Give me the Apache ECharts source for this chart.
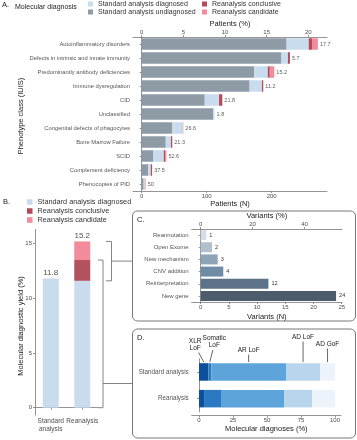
<!DOCTYPE html>
<html><head><meta charset="utf-8">
<script src="https://cdn.jsdelivr.net/npm/echarts@6/dist/echarts.min.js"></script>
<style>html,body{margin:0;padding:0;background:#fff}#c{width:357px;height:440px}</style>
</head><body><div id="c"></div>
<script>
// ---------- Panel A data ----------
const phenoCats = ['Autoinflammatory disorders','Defects in intrinsic and innate immunity','Predominantly antibody deficiencies','Immune dysregulation','CID','Unclassified','Congenital defects of phagocytes','Bone Marrow Failure','SCID','Complement deficiency','Phenocopies of PID'];
const undiagnosed = [223,215,173,166,97,110,47,37,18,10,3];
const diagnosed   = [34,10,21,19,22,2,16,8,16,4,2];
const conclusive  = [5,3,3,2,5,0,0,2,2,2,0];
const candidate   = [9,0,7,0,0,0,1,0,2,0,1];
const yieldPctLabels = ['17.7','5.7','15.2','11.2','21.8','1.8','26.6','21.3','52.6','37.5','50'];
const patientsNTicks = [0,100,200];
const patientsPctTicks = [0,5,10,15,20];

// ---------- Panel B data ----------
const yieldCats = ['Standard\nanalysis','Reanalysis'];
const yieldDiagnosed  = [11.8, 11.6];
const yieldConclusive = [0, 1.9];
const yieldCandidate  = [0, 1.7];
const yieldTotalLabels = ['11.8','15.2'];
const yieldTicks = [0,5,10,15];

// ---------- Panel C data ----------
const variantCats = ['Reannotation','Open Exome','New mechanism','CNV addition','Reinterpretation','New gene'];
const variantCounts = [1,2,3,4,12,24];
const variantNTicks = [0,5,10,15,20,25];
const variantPctTicks = [0,20,40];

// ---------- Panel D data ----------
const dxCats = ['Standard analysis','Reanalysis'];
const xlrLoF     = [6.9, 3.7];
const somaticLoF = [2.1, 12.5];
const arLoF      = [55, 46.3];
const adLoF      = [25, 20.8];
const adGoF      = [11, 16.7];
const dxTicks = [0,25,50,75,100];

// ---------- styles ----------
const FONT = 'Liberation Sans, Arial, sans-serif';
const AX = '#7a7a7a';
const C_UND = '#8e9ba7', C_DIAG = '#c8dced', C_CONC = '#b24a58', C_CAND = '#f28b9b';
const variantColors = ['#d5dde7','#b2bfcd','#8ea3b8','#6e8ca6','#5b7289','#4c5c6d'];
const dxColors = ['#0c4f9b','#2b79c2','#5da4da','#b8d5ee','#edf3fb'];

function axLine(){return {show:true,lineStyle:{color:AX,width:0.8}};}
function tick(vals){const t={show:true,length:2,lineStyle:{color:AX,width:0.8}}; if(vals) t.customValues=vals; return t;}
function lab(vals,size,margin){const l={show:true,fontSize:size,color:'#4d4d4d',fontFamily:FONT,margin:margin}; if(vals) l.customValues=vals; return l;}
function nameStyle(){return {fontSize:7.5,color:'#1a1a1a',fontFamily:FONT};}

const total = phenoCats.map((c,i)=>undiagnosed[i]+diagnosed[i]+conclusive[i]+candidate[i]);
const yieldTotal = yieldCats.map((c,i)=>yieldDiagnosed[i]+yieldConclusive[i]+yieldCandidate[i]);

const chart = echarts.init(document.getElementById('c'), null, {renderer:'canvas'});
const option = {
  animation:false,
  backgroundColor:'#fff',
  textStyle:{fontFamily:FONT},
  grid:[
    {left:133, top:37, width:194, height:154, outerBoundsMode:'none'},
    {left:35, top:229.4, width:63, height:185.6, outerBoundsMode:'none'},
    {left:191.7, top:229, width:150.3, height:73, outerBoundsMode:'none'},
    {left:191.7, top:358.6, width:149.3, height:53.4, outerBoundsMode:'none'}
  ],
  legend:[
    {left:88, top:0, orient:'vertical', icon:'rect', itemWidth:5, itemHeight:5, itemGap:0, padding:0, selectedMode:false,
     data:['Standard analysis diagnosed','Standard analysis undiagnosed'], textStyle:{fontSize:7, lineHeight:8, color:'#333', fontFamily:FONT}},
    {left:202, top:0, orient:'vertical', icon:'rect', itemWidth:5, itemHeight:5, itemGap:0, padding:0, selectedMode:false,
     data:['Reanalysis conclusive','Reanalysis candidate'], textStyle:{fontSize:7, lineHeight:8, color:'#333', fontFamily:FONT}},
    {left:27, top:197.5, orient:'vertical', icon:'rect', itemWidth:5.5, itemHeight:5.5, itemGap:0, padding:0, selectedMode:false,
     data:['Standard analysis diagnosed','Reanalysis conclusive','Reanalysis candidate'], textStyle:{fontSize:7.3, lineHeight:9, color:'#333', fontFamily:FONT}}
  ],
  xAxis:[
    {gridIndex:0, type:'value', position:'bottom', min:-13.4, max:285.1, axisLine:axLine(), axisTick:tick(patientsNTicks), axisLabel:lab(patientsNTicks,6,2), splitLine:{show:false},
     name:'Patients (N)', nameLocation:'middle', nameGap:7, nameTextStyle:nameStyle()},
    {gridIndex:0, type:'value', position:'top', min:-1.044, max:22.24, axisLine:axLine(), axisTick:tick(patientsPctTicks), axisLabel:lab(patientsPctTicks,6,2), splitLine:{show:false},
     name:'Patients (%)', nameLocation:'middle', nameGap:8, nameTextStyle:nameStyle()},
    {gridIndex:1, type:'category', data:yieldCats, axisLine:axLine(), axisTick:{show:true,alignWithLabel:true,length:2,lineStyle:{color:AX,width:0.8}},
     axisLabel:{interval:0, fontSize:6.5, lineHeight:7.3, color:'#4d4d4d', margin:3, fontFamily:FONT}},
    {gridIndex:2, type:'value', position:'bottom', min:-1.6, max:25.05, axisLine:axLine(), axisTick:tick(variantNTicks), axisLabel:lab(variantNTicks,6,2.5), splitLine:{show:false},
     name:'Variants (N)', nameLocation:'middle', nameGap:11, nameTextStyle:nameStyle()},
    {gridIndex:2, type:'value', position:'top', min:-3.47, max:54.47, axisLine:axLine(), axisTick:tick(variantPctTicks), axisLabel:lab(variantPctTicks,6,2), splitLine:{show:false},
     name:'Variants (%)', nameLocation:'middle', nameGap:9, nameTextStyle:nameStyle()},
    {gridIndex:3, type:'value', position:'bottom', offset:3.7, min:-5.37, max:104.4, axisLine:axLine(), axisTick:tick(dxTicks), axisLabel:lab(dxTicks,6,2), splitLine:{show:false},
     name:'Molecular diagnoses (%)', nameLocation:'middle', nameGap:8, nameTextStyle:nameStyle()}
  ],
  yAxis:[
    {gridIndex:0, type:'category', inverse:true, data:phenoCats, axisLine:axLine(), axisTick:{show:true,alignWithLabel:true,length:2,lineStyle:{color:AX,width:0.8}},
     axisLabel:{interval:0, fontSize:5.8, color:'#555', margin:3, fontFamily:FONT}},
    {gridIndex:1, type:'value', min:-0.667, max:16.3, axisLine:axLine(), axisTick:tick(yieldTicks), axisLabel:lab(yieldTicks,6,3), splitLine:{show:false}},
    {gridIndex:2, type:'category', inverse:true, data:variantCats, axisLine:axLine(), axisTick:{show:true,alignWithLabel:true,length:2,lineStyle:{color:AX,width:0.8}},
     axisLabel:{interval:0, fontSize:6, color:'#555', margin:3, fontFamily:FONT}},
    {gridIndex:3, type:'category', inverse:true, data:dxCats, axisLine:axLine(), axisTick:{show:true,alignWithLabel:true,length:2,lineStyle:{color:AX,width:0.8}},
     axisLabel:{interval:0, fontSize:6.3, color:'#555', margin:3, fontFamily:FONT}}
  ],
  series:[
    {name:'Standard analysis undiagnosed', type:'bar', xAxisIndex:0, yAxisIndex:0, stack:'a', barWidth:11.5, data:undiagnosed, itemStyle:{color:C_UND}},
    {name:'Standard analysis diagnosed', type:'bar', xAxisIndex:0, yAxisIndex:0, stack:'a', barWidth:11.5, data:diagnosed, itemStyle:{color:C_DIAG}},
    {name:'Reanalysis conclusive', type:'bar', xAxisIndex:0, yAxisIndex:0, stack:'a', barWidth:11.5, data:conclusive, itemStyle:{color:C_CONC}},
    {name:'Reanalysis candidate', type:'bar', xAxisIndex:0, yAxisIndex:0, stack:'a', barWidth:11.5, data:candidate, itemStyle:{color:C_CAND}},
    {type:'scatter', xAxisIndex:0, yAxisIndex:0, symbolSize:0.1, itemStyle:{color:'rgba(0,0,0,0)'}, silent:true,
     data:total.map((t,i)=>[t,i]),
     label:{show:true, position:'right', distance:2, fontSize:5.5, color:'#333', fontFamily:FONT, formatter:p=>yieldPctLabels[p.dataIndex]}},

    {name:'Standard analysis diagnosed', type:'bar', xAxisIndex:2, yAxisIndex:1, stack:'b', barWidth:16, data:yieldDiagnosed, itemStyle:{color:C_DIAG}},
    {name:'Reanalysis conclusive', type:'bar', xAxisIndex:2, yAxisIndex:1, stack:'b', barWidth:16, data:yieldConclusive, itemStyle:{color:'#b3525e'}},
    {name:'Reanalysis candidate', type:'bar', xAxisIndex:2, yAxisIndex:1, stack:'b', barWidth:16, data:yieldCandidate, itemStyle:{color:C_CAND}},
    {type:'scatter', xAxisIndex:2, yAxisIndex:1, symbolSize:0.1, itemStyle:{color:'rgba(0,0,0,0)'}, silent:true,
     data:yieldTotal.map((t,i)=>[i,t]),
     label:{show:true, position:'top', distance:1.5, fontSize:8, color:'#222', fontFamily:FONT, formatter:p=>yieldTotalLabels[p.dataIndex]}},

    {type:'bar', xAxisIndex:3, yAxisIndex:2, barWidth:10,
     data:variantCounts.map((v,i)=>({value:v, itemStyle:{color:variantColors[i]}})),
     label:{show:true, position:'right', distance:3, fontSize:5.5, color:'#333', fontFamily:FONT}},

    {name:'XLR LoF', type:'bar', xAxisIndex:5, yAxisIndex:3, stack:'d', barWidth:17.5, data:xlrLoF, itemStyle:{color:dxColors[0]}},
    {name:'Somatic LoF', type:'bar', xAxisIndex:5, yAxisIndex:3, stack:'d', barWidth:17.5, data:somaticLoF, itemStyle:{color:dxColors[1]}},
    {name:'AR LoF', type:'bar', xAxisIndex:5, yAxisIndex:3, stack:'d', barWidth:17.5, data:arLoF, itemStyle:{color:dxColors[2]}},
    {name:'AD LoF', type:'bar', xAxisIndex:5, yAxisIndex:3, stack:'d', barWidth:17.5, data:adLoF, itemStyle:{color:dxColors[3]}},
    {name:'AD GoF', type:'bar', xAxisIndex:5, yAxisIndex:3, stack:'d', barWidth:17.5, data:adGoF, itemStyle:{color:dxColors[4]}}
  ]
};
chart.setOption(option);

// ---------- annotations & decorations ----------
const g = [];
const T = (x,y,text,size,extra)=>g.push(Object.assign({type:'text', x:x, y:y, silent:true,
  style:{text:text, fontSize:size, fill:'#222', fontFamily:FONT, align:'left', verticalAlign:'middle'}}, extra||{}));
const L = (x1,y1,x2,y2,col)=>g.push({type:'line', silent:true, shape:{x1:x1,y1:y1,x2:x2,y2:y2}, style:{stroke:col||'#777', lineWidth:0.9}});

T(2,4.5,'A.',7.5);
T(15,7.5,'Molecular diagnosis',7);
T(3,202,'B.',7.5);
T(137,220,'C.',7.5);
T(137,338,'D.',7.5);
g.push({type:'text', x:21, y:116, rotation:Math.PI/2, silent:true, style:{text:'Phenotype class (IUIS)', fontSize:7.5, fill:'#1a1a1a', fontFamily:FONT, align:'center', verticalAlign:'middle'}});
g.push({type:'text', x:21, y:326, rotation:Math.PI/2, silent:true, style:{text:'Molecular diagnostic yield (%)', fontSize:7.5, fill:'#1a1a1a', fontFamily:FONT, align:'center', verticalAlign:'middle'}});

// panel boxes
g.push({type:'rect', silent:true, shape:{x:132.5, y:211, width:223, height:110, r:5}, style:{fill:'none', stroke:'#777', lineWidth:1}});
g.push({type:'rect', silent:true, shape:{x:132.5, y:329, width:223, height:109, r:5}, style:{fill:'none', stroke:'#777', lineWidth:1}});

// brackets from panel B
const yB = v => chart.convertToPixel({gridIndex:1}, [1, v])[1];
const top1 = yB(yieldTotal[1]), bot1 = yB(yieldDiagnosed[1]);
const mid1 = (top1+bot1)/2;
L(106,top1,111.5,top1); L(111.5,top1,111.5,bot1); L(106,bot1,111.5,bot1); L(111.5,mid1,132.5,mid1);
const top2 = yB(yieldDiagnosed[1]+yieldConclusive[1]), bot2 = yB(0);
L(98,top2,103,top2); L(103,top2,103,bot2); L(98,bot2,103,bot2); L(103,383.5,132.5,383.5);

// panel D annotations (at midpoints of standard-analysis segments)
const segs = [xlrLoF, somaticLoF, arLoF, adLoF, adGoF];
let acc = 0; const mids = [];
segs.forEach(s=>{ mids.push(chart.convertToPixel({gridIndex:3}, [acc + s[0]/2, 0])[0]); acc += s[0]; });
const barTop = chart.convertToPixel({gridIndex:3}, [0, 0])[1] - 8.9;
const annot = [
  {text:'XLR\nLoF', dx:-8.5, ty:345, ly1:352.5, lx1:-5},
  {text:'Somatic\nLoF', dx:4.5, ty:342, ly1:350, lx1:3},
  {text:'AR LoF', dx:0, ty:350.7, ly1:354.5, lx1:0},
  {text:'AD LoF', dx:0, ty:337.3, ly1:341.5, lx1:0},
  {text:'AD GoF', dx:0, ty:344, ly1:348.5, lx1:0}
];
annot.forEach((a,i)=>{
  g.push({type:'text', x:mids[i]+a.dx, y:a.ty, silent:true, style:{text:a.text, fontSize:6.5, lineHeight:7, fill:'#222', fontFamily:FONT, align:'center', verticalAlign:'middle'}});
  L(mids[i]+a.lx1, a.ly1, mids[i], barTop-1, '#555');
});

chart.setOption({graphic:g});
</script></body></html>
